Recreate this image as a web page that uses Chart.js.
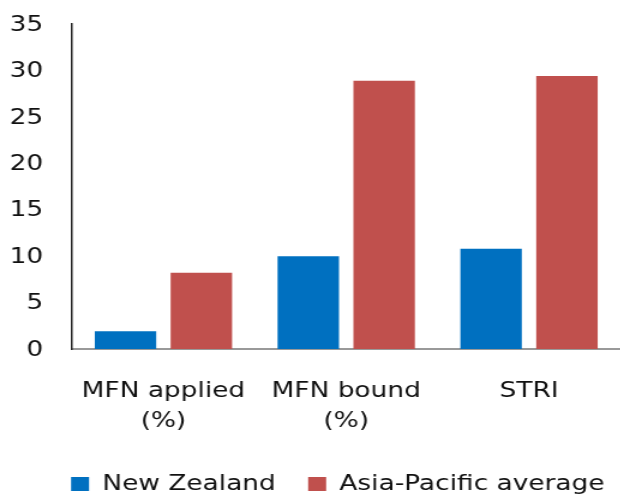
<!DOCTYPE html>
<html>
<head>
<meta charset="utf-8">
<script src="https://cdn.jsdelivr.net/npm/chart.js@4.4.1/dist/chart.umd.min.js"></script>
<style>
  html, body { margin: 0; padding: 0; background: #ffffff; overflow: hidden; }
  #wrap { position: relative; width: 517px; height: 505px; transform: scaleX(1.2); transform-origin: 0 0; }
</style>
</head>
<body>
<div id="wrap"><canvas id="c"></canvas></div>
<script>
const categories = [["MFN applied", "(%)"], ["MFN bound", "(%)"], ["STRI"]];
const seriesNames = ["New Zealand", "Asia-Pacific average"];
const newZealand = [1.9, 10.0, 10.8];
const asiaPacific = [8.2, 28.9, 29.4];
const yTicks = [0, 5, 10, 15, 20, 25, 30, 35];

const legendShift = {
  id: 'legendShift',
  afterLayout(chart) {
    if (chart.legend) { chart.legend.left += 23; chart.legend.right += 23; }
  }
};

const ctx = document.getElementById('c');
new Chart(ctx, {
  type: 'bar',
  data: {
    labels: categories,
    datasets: [
      { label: seriesNames[0], data: newZealand, backgroundColor: '#0070C0', borderWidth: 0 },
      { label: seriesNames[1], data: asiaPacific, backgroundColor: '#C0504D', borderWidth: 0 }
    ]
  },
  plugins: [legendShift],
  options: {
    responsive: true,
    maintainAspectRatio: false,
    animation: false,
    categoryPercentage: 0.83,
    barPercentage: 0.81,
    layout: { padding: { top: 24, right: 0, left: 0, bottom: 0 } },
    plugins: {
      tooltip: { enabled: false },
      legend: {
        position: 'bottom',
        labels: {
          font: { family: 'DejaVu Sans', size: 22 },
          color: '#111',
          boxWidth: 15,
          boxHeight: 14,
          padding: 27
        }
      }
    },
    scales: {
      x: {
        grid: { display: false, drawTicks: false },
        border: { display: true, color: '#999999', width: 2 },
        afterFit: (scale) => { scale.height = 97; },
        ticks: {
          color: '#111',
          font: { family: 'DejaVu Sans', size: 22, lineHeight: 1.36 },
          padding: 27,
          maxRotation: 0,
          autoSkip: false
        }
      },
      y: {
        min: 0,
        max: 35,
        afterBuildTicks: (axis) => { axis.ticks = yTicks.map(v => ({ value: v })); },
        afterFit: (scale) => { scale.width = 60; },
        grid: { display: false, drawTicks: true, tickLength: 24 },
        border: { display: true, color: '#222222', width: 1.5 },
        ticks: {
          color: '#111',
          font: { family: 'DejaVu Sans', size: 22 },
          padding: 0,
          labelOffset: 1
        }
      }
    }
  }
});
</script>
</body>
</html>
